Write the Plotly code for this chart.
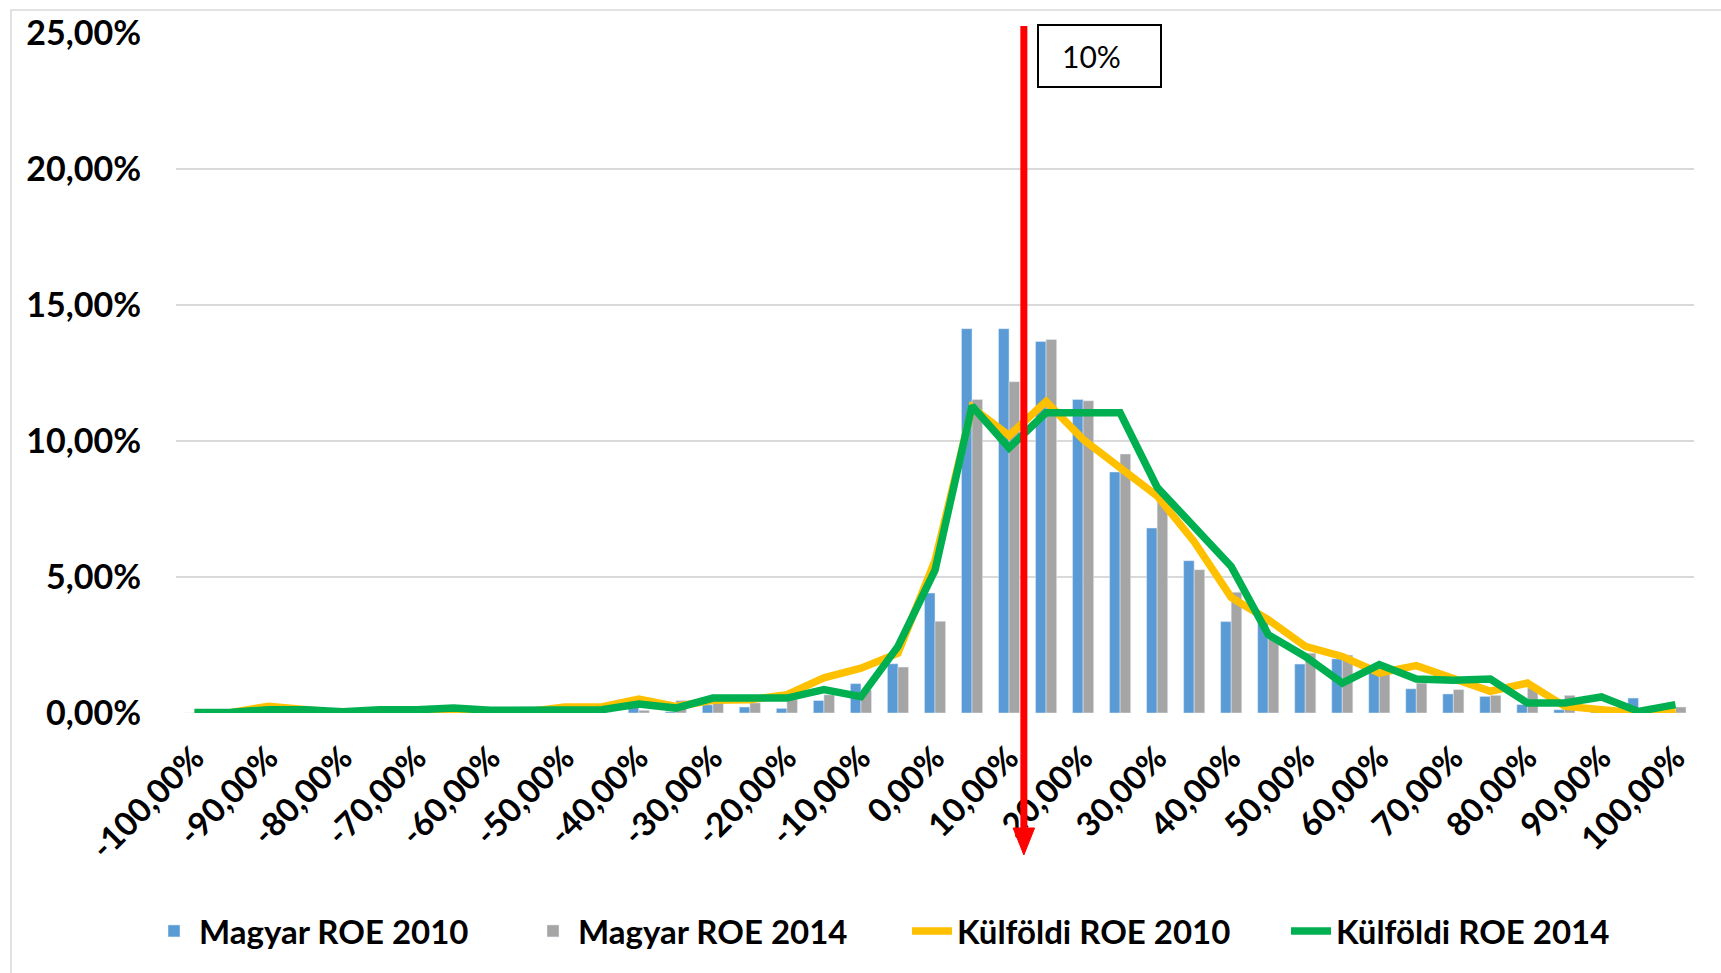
import plotly.graph_objects as go

# ---- data (values in percent) ----
categories = list(range(-100, 101, 5))
tick_values = list(range(-100, 101, 10))
tick_labels = [f"{v},00%" for v in tick_values]
y_tick_values = [0, 5, 10, 15, 20, 25]
y_tick_labels = ["0,00%", "5,00%", "10,00%", "15,00%", "20,00%", "25,00%"]

magyar_2010 = [0, 0, 0, 0, 0, 0, 0, 0, 0, 0, 0, 0.03, 0.25, 0.05, 0.3, 0.22, 0.17, 0.46, 1.08, 1.81,
               4.41, 14.13, 14.13, 13.66, 11.53, 8.86, 6.80, 5.60, 3.36, 3.35, 1.80, 1.99, 1.50, 0.89,
               0.70, 0.61, 0.31, 0.12, 0.05, 0.55, 0.05]
magyar_2014 = [0, 0, 0, 0, 0, 0, 0, 0, 0, 0, 0, 0, 0.1, 0.46, 0.42, 0.37, 0.49, 0.67, 0.85, 1.69,
               3.37, 11.53, 12.18, 13.73, 11.48, 9.52, 7.98, 5.27, 4.44, 2.80, 2.20, 2.13, 1.45, 1.10,
               0.86, 0.65, 0.92, 0.65, 0.10, 0.05, 0.22]
kulfoldi_2010 = [0, 0.02, 0.25, 0.1, 0.0, 0.08, 0.08, 0.02, 0.05, 0.05, 0.22, 0.22, 0.51, 0.24, 0.47,
                 0.49, 0.67, 1.29, 1.65, 2.2, 5.6, 11.23, 10.2, 11.45, 10.06, 9.02, 7.98, 6.3, 4.25,
                 3.43, 2.45, 2.08, 1.47, 1.74, 1.25, 0.8, 1.1, 0.25, 0.12, 0.0, 0.1]
kulfoldi_2014 = [0.02, 0.03, 0.12, 0.12, 0.05, 0.12, 0.12, 0.18, 0.1, 0.1, 0.1, 0.12, 0.33, 0.18, 0.55,
                 0.55, 0.55, 0.86, 0.6, 2.45, 5.25, 11.29, 9.75, 11.04, 11.04, 11.04, 8.3, 6.86, 5.39,
                 2.88, 2.08, 1.10, 1.78, 1.25, 1.2, 1.25, 0.37, 0.37, 0.59, 0.06, 0.31]
marker_value = 12  # position of the "10%" marker arrow on the category axis
marker_label = "10%"

# ---- layout geometry (pixels) ----
W, H = 1721, 973
L, R, T, B = 176, 27, 33, 260
pw, ph = W - L - R, H - T - B


def px(x):
    return (x - L) / pw


def py(y):
    return (H - B - y) / ph


FONT = "Lato, 'Open Sans', sans-serif"

fig = go.Figure()
fig.add_trace(go.Bar(x=categories, y=magyar_2010, name="Magyar ROE 2010", marker_color="#5B9BD5"))
fig.add_trace(go.Bar(x=categories, y=magyar_2014, name="Magyar ROE 2014", marker_color="#A5A5A5"))
fig.add_trace(go.Scatter(x=categories, y=kulfoldi_2010, name="Külföldi ROE 2010", mode="lines",
                         line=dict(color="#FFC000", width=7.5)))
fig.add_trace(go.Scatter(x=categories, y=kulfoldi_2014, name="Külföldi ROE 2014", mode="lines",
                         line=dict(color="#00B050", width=7.5)))

shapes = [
    # chart border
    dict(type="rect", xref="paper", yref="paper", x0=px(11), x1=px(W + 5), y0=py(H + 5), y1=py(10),
         line=dict(color="#D9D9D9", width=1.5), fillcolor="rgba(0,0,0,0)", layer="below"),
    # red marker line
    dict(type="line", xref="x", yref="paper", x0=marker_value, x1=marker_value,
         y0=py(26), y1=py(835), line=dict(color="#FF0000", width=7)),
    # arrow head
    dict(type="path", xref="x", yref="paper",
         path=f"M {marker_value - 1.45},{py(828)} L {marker_value + 1.45},{py(828)} L {marker_value},{py(855)} Z",
         fillcolor="#FF0000", line=dict(color="#FF0000", width=1)),
    # label box
    dict(type="rect", xref="paper", yref="paper", x0=px(1038), x1=px(1161), y0=py(87), y1=py(25),
         line=dict(color="#000000", width=2), fillcolor="white"),
]

fig.update_layout(
    width=W, height=H,
    margin=dict(l=L, r=R, t=T, b=B),
    paper_bgcolor="white", plot_bgcolor="white",
    barmode="group", bargap=0.43, bargroupgap=0.0,
    font=dict(family=FONT, size=33, color="black", weight="bold"),
    shapes=shapes,
    annotations=[dict(xref="paper", yref="paper", x=px(1091), y=py(56), text=marker_label,
                      showarrow=False, font=dict(family=FONT, size=30, color="black", weight="normal"),
                      xanchor="center", yanchor="middle")],
    legend=dict(orientation="h", x=px(149), xanchor="left", y=py(931), yanchor="middle",
                font=dict(family=FONT, size=33, color="black", weight="bold"),
                traceorder="normal", itemwidth=40, entrywidth=324, entrywidthmode="pixels"),
    xaxis=dict(range=[-102.5, 102.5], tickmode="array", tickvals=tick_values, ticktext=tick_labels,
               tickangle=-45, showgrid=False, zeroline=False, showline=False,
               ticklabelstandoff=18,
               tickfont=dict(family=FONT, size=33, color="black", weight="bold")),
    yaxis=dict(range=[0, 25], tickmode="array", tickvals=y_tick_values, ticktext=y_tick_labels,
               showgrid=True, gridcolor="#D9D9D9", gridwidth=1.5, zeroline=False, showline=False,
               ticklabelstandoff=34,
               tickfont=dict(family=FONT, size=34, color="black", weight="bold")),
)

fig.write_html("out.html", config={"displayModeBar": False},
               post_script="document.body.style.margin='0px';")
